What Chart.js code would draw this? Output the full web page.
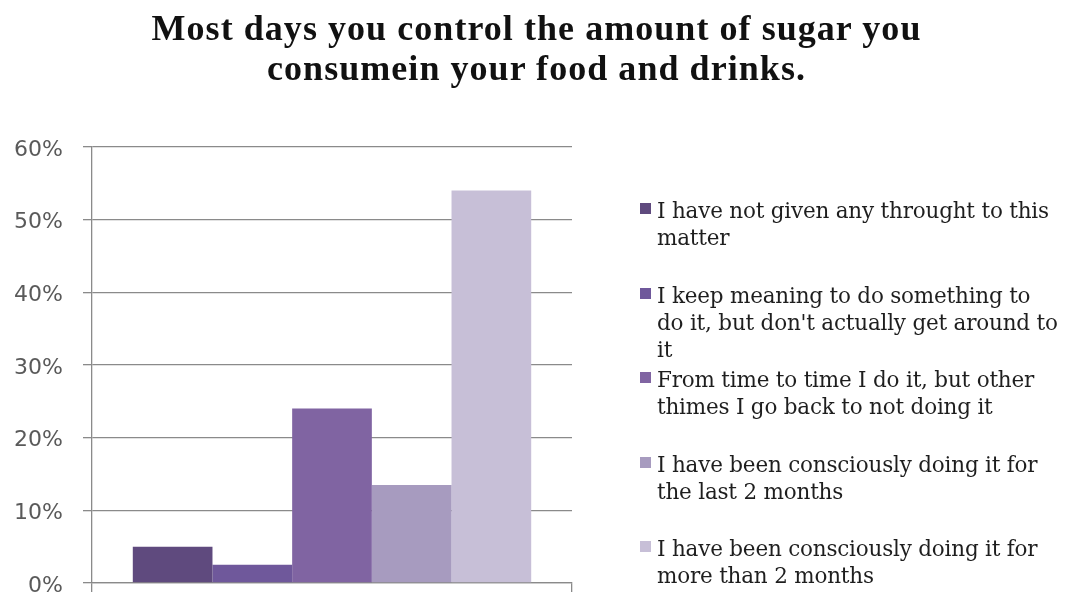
<!DOCTYPE html>
<html>
<head>
<meta charset="utf-8">
<script src="https://cdn.jsdelivr.net/npm/chart.js@4/dist/chart.umd.min.js"></script>
<style>
  html, body { margin: 0; padding: 0; background: #fff; }
  #wrap { position: relative; width: 1065px; height: 598px; overflow: hidden; }
  #chart { position: absolute; left: 0; top: 0; }
  #title {
    position: absolute; left: 4px; top: 8px; width: 1065px; text-align: center;
    font-family: "Liberation Serif", "DejaVu Serif", serif; font-weight: bold;
    font-size: 36px; line-height: 40px; letter-spacing: 1.05px; color: #111;
  }
  #legend {
    position: absolute; left: 640px; top: 197px; width: 440px;
    font-family: "DejaVu Serif", "Liberation Serif", serif;
    font-size: 21.5px; line-height: 27px; color: #1e1e1e; letter-spacing: -0.2px;
  }
  .item { position: relative; height: 84.5px; padding-left: 17px; white-space: pre; }
  .sw { position: absolute; left: 0; top: 6px; width: 11px; height: 11px; }
</style>
</head>
<body>
<div id="wrap">
  <canvas id="chart" width="1065" height="598"></canvas>
  <div id="title"></div>
  <div id="legend"></div>
</div>
<script>
// Survey answers: share of respondents per answer (percent)
const categories = [''];
const answerLabels = [
  'I have not given any throught to this\nmatter',
  'I keep meaning to do something to\ndo it, but don\'t actually get around to\nit',
  'From time to time I do it, but other\nthimes I go back to not doing it',
  'I have been consciously doing it for\nthe last 2 months',
  'I have been consciously doing it for\nmore than 2 months'
];
const answerValues = [5, 2.5, 24, 13.5, 54];
const answerColors = ['#5f4a7e', '#6f589b', '#8064a2', '#a79bbf', '#c7bfd7'];
const yTickValues = [0, 10, 20, 30, 40, 50, 60];
const titleLines = [
  'Most days you control the amount of sugar you',
  'consumein your food and drinks.'
];

const gridGray = '#8a8a8a';

const datasets = answerLabels.map((label, i) => ({
  label: label,
  data: [answerValues[i]],
  backgroundColor: answerColors[i],
  borderWidth: 0,
  barPercentage: 1.0,
  categoryPercentage: 0.83
}));

const chart = new Chart(document.getElementById('chart'), {
  type: 'bar',
  data: { labels: categories, datasets: datasets },
  options: {
    responsive: false,
    animation: false,
    layout: { padding: { left: 0, right: 493, top: 147, bottom: 6 } },
    plugins: {
      legend: { display: false },
      tooltip: { enabled: false },
      title: { display: false }
    },
    scales: {
      x: {
        offset: true,
        grid: { display: true, drawOnChartArea: false, offset: true, tickLength: 9, color: gridGray, lineWidth: 1.3 },
        border: { display: true, color: gridGray, width: 1.3 },
        ticks: { display: false }
      },
      y: {
        min: 0,
        max: 60,
        afterBuildTicks: (scale) => { scale.ticks = yTickValues.map(v => ({ value: v })); },
        afterFit: (scale) => {
          scale.width = 92;
          scale.paddingTop = 0;
          scale.paddingBottom = 0;
        },
        grid: { color: gridGray, lineWidth: 1.3, tickLength: 9 },
        border: { display: true, color: gridGray, width: 1.3 },
        ticks: {
          padding: 20,
          labelOffset: 3,
          color: '#5a5a5a',
          font: { family: '"DejaVu Sans", "Liberation Sans", sans-serif', size: 22 },
          callback: (v) => v + '%'
        }
      }
    }
  }
});

// Heading lines
const titleEl = document.getElementById('title');
titleLines.forEach((line) => {
  const d = document.createElement('div');
  d.textContent = line;
  titleEl.appendChild(d);
});

// Legend list built from the chart's datasets
const legendEl = document.getElementById('legend');
chart.data.datasets.forEach((ds) => {
  const item = document.createElement('div');
  item.className = 'item';
  const sw = document.createElement('span');
  sw.className = 'sw';
  sw.style.background = ds.backgroundColor;
  item.appendChild(sw);
  item.appendChild(document.createTextNode(ds.label));
  legendEl.appendChild(item);
});
</script>
</body>
</html>
